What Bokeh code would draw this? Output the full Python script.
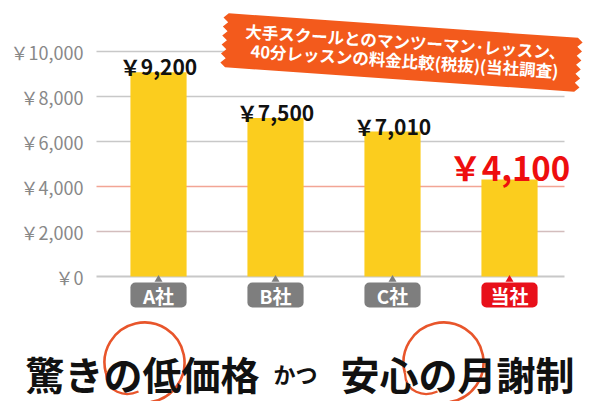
import numpy as np
from bokeh.plotting import figure
from bokeh.models import Range1d, Label, PolyAnnotation
from bokeh.core.properties import value
from bokeh.embed import file_html
from bokeh.resources import INLINE

# ---------------- data ----------------
categories = ["A社", "B社", "C社", "当社"]
bar_values = [9080, 7050, 6440, 4310]           # bar heights
price_labels = ["￥9,200", "￥7,500", "￥7,010", "￥4,100"]
y_ticks = [0, 2000, 4000, 6000, 8000, 10000]
tick_labels = ["￥0", "￥2,000", "￥4,000", "￥6,000", "￥8,000", "￥10,000"]
banner_lines = ["大手スクールとのマンツーマン･レッスン、",
                "40分レッスンの料金比較(税抜)(当社調査)"]
slogan_parts = ["驚きの低価格", "かつ", "安心の月謝制"]
highlight = 3

# ---------------- layout helpers (picture pixels -> data) ----------------
PAGE_L, PAGE_R, PAGE_T, PAGE_B = 0, 584, 0, 401
PLOT_L, PLOT_R = 96, 564
ZERO_PX, PX_PER_Y = 276.0, 0.0225
X0, PX_PER_X = -0.03, 117.0


def X(px):
    return X0 + (px - PLOT_L) / PX_PER_X


def Y(py):
    return (ZERO_PX - py) / PX_PER_Y


FONT = "Noto Sans CJK JP"

p = figure(width=PAGE_R - PAGE_L, height=PAGE_B - PAGE_T,
           x_range=Range1d(X(PAGE_L), X(PAGE_R)),
           y_range=Range1d(Y(PAGE_B), Y(PAGE_T)),
           min_border=0, x_axis_location=None, y_axis_location=None,
           toolbar_location=None, output_backend="svg")
p.outline_line_color = None
p.xgrid.visible = False
p.ygrid.visible = False

# value axis: grid lines + tick labels placed through the data scale
grid_colors = {0: "#c8c8c8", 2000: "#d3bdbd", 4000: "#f2a595"}
p.segment(x0=X(PLOT_L), x1=X(PLOT_R), y0=y_ticks, y1=y_ticks,
          line_color=[grid_colors.get(t, "#c8c8c8") for t in y_ticks],
          line_width=[2.2 if t == 0 else 1.5 for t in y_ticks])
p.text(x=X(83), y=y_ticks, text=tick_labels,
       text_align="right", text_baseline="middle",
       text_font=value(FONT), text_font_size="18px", text_color="#888888")

xs = [i + 0.5 for i in range(len(categories))]
n = len(categories)
normal = [i for i in range(n) if i != highlight]

# bars
p.vbar(x=xs, top=bar_values, bottom=0, width=0.48,
       fill_color="#FBCD1E", line_color=None)

# value labels
p.text(x=[xs[i] for i in normal], y=[bar_values[i] for i in normal],
       text=[price_labels[i] for i in normal],
       text_align="center", text_baseline="alphabetic", y_offset=-6,
       text_font=value(FONT), text_font_style="bold",
       text_font_size="21px", text_color="#111111")
p.text(x=[xs[highlight]], y=[bar_values[highlight]], text=[price_labels[highlight]],
       text_align="center", text_baseline="alphabetic", y_offset=-13,
       text_font=value(FONT), text_font_style="bold",
       text_font_size="33px", text_color="#EE0E0E")

# category badges
badge_colors = ["#E8101A" if i == highlight else "#7e7e7e" for i in range(n)]
p.vbar(x=xs, bottom=Y(307), top=Y(282), width=0.48,
       fill_color=badge_colors, line_color=None, border_radius=5)
p.scatter(x=xs, y=[Y(279)] * n, marker="triangle", size=8,
          fill_color=badge_colors, line_color=None)
p.text(x=xs, y=[Y(294.5)] * n, text=categories,
       text_align="center", text_baseline="middle",
       text_font=value(FONT), text_font_style="bold",
       text_font_size="19px", text_color="white")

# swirls behind the slogan
SW = "#E8552B"
for cx in (144, 443):
    p.arc(x=X(cx), y=Y(362), radius=40, radius_units="screen",
          start_angle=np.deg2rad(-81), end_angle=np.deg2rad(195),
          direction="anticlock", line_color=SW, line_width=2.6)
    p.bezier(x0=X(cx - 38.6), y0=Y(372.4), x1=X(cx - 6), y1=Y(391),
             cx0=X(cx - 38), cy0=Y(392), cx1=X(cx - 20), cy1=Y(397),
             line_color=SW, line_width=2.2)

# banner ribbon
th = np.deg2rad(4.0)
c = np.array([401.0, 52.0])
u = np.array([np.cos(th), np.sin(th)])
v = np.array([-np.sin(th), np.cos(th)])
hw, hh = 175.0, 27.0
pts = [c - hw * u - hh * v, c + hw * u - hh * v]
teeth = 6
for k in range(1, 2 * teeth):
    t = -hh + 2 * hh * k / (2 * teeth)
    out = 5.0 if k % 2 == 1 else 0.0
    pts.append(c + (hw + out) * u + t * v)
pts.append(c + hw * u + hh * v)
pts.append(c - hw * u + hh * v)
for k in range(1, 2 * teeth):
    t = hh - 2 * hh * k / (2 * teeth)
    out = 5.0 if k % 2 == 1 else 0.0
    pts.append(c - (hw + out) * u + t * v)
p.add_layout(PolyAnnotation(xs=[X(a[0]) for a in pts], ys=[Y(a[1]) for a in pts],
                            fill_color="#F35A1C", fill_alpha=1.0, line_color=None))
for txt, (bx, by) in zip(banner_lines, [(405, 41), (404, 60)]):
    p.add_layout(Label(x=X(bx), y=Y(by), text=txt, angle=-np.deg2rad(3.8),
                       text_align="center", text_baseline="middle",
                       text_font=FONT, text_font_style="bold",
                       text_font_size="16.5px", text_color="white"))

# slogan
for txt, lx, fs in zip(slogan_parts, [25, 273, 340], ["39px", "22px", "39px"]):
    p.add_layout(Label(x=X(lx), y=Y(372), text=txt,
                       text_align="left", text_baseline="alphabetic",
                       text_font=FONT, text_font_style="bold",
                       text_font_size=fs, text_color="#111111"))

open("out.html", "w").write(file_html(p, INLINE))
